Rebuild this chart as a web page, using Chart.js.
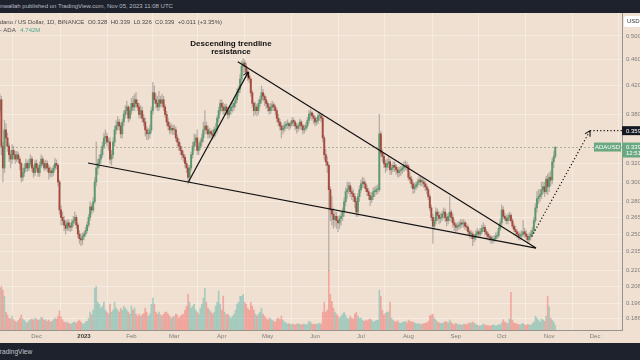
<!DOCTYPE html>
<html><head><meta charset="utf-8">
<script src="https://cdn.jsdelivr.net/npm/chart.js@4.4.1/dist/chart.umd.min.js"></script>
<style>
html,body{margin:0;padding:0;width:640px;height:360px;overflow:hidden;background:#f0e0d2;font-family:"Liberation Sans",Arial,sans-serif}
#wrap{position:relative;width:640px;height:360px;overflow:hidden}
canvas{position:absolute;left:0;top:0}
#hdr{position:absolute;left:0;top:0;width:640px;height:13px;background:#1e222d;color:#b8bbc4;font-size:6px;line-height:13px;white-space:pre;z-index:3}
#hdr span{position:relative;left:-1px}
#ftr{position:absolute;left:0;top:343px;width:640px;height:17px;background:#1e222d;color:#c2c5cc;font-size:6.6px;line-height:17px;white-space:pre;z-index:3}
#ftr span{position:relative;left:-4px}
.leg{position:absolute;font-size:6px;line-height:8px;color:#4a4a4a;white-space:pre;z-index:3}
#note{position:absolute;left:181px;top:40px;width:100px;text-align:center;font-weight:bold;font-size:8px;line-height:8px;color:#111;z-index:3}
</style></head>
<body><div id="wrap">
<canvas id="c" width="640" height="360"></canvas>
<div id="hdr"><span>inwallah published on TradingView.com, Nov 05, 2023 11:08 UTC</span></div>
<div class="leg" style="left:-10px;top:17.5px">Cardano / US Dollar, 1D, BINANCE  O0.328  H0.339  L0.326  C0.339  +0.011 (+3.35%)</div>
<div class="leg" style="left:0;top:26px">- ADA   <span style="color:#4aa88f">4.742M</span></div>
<div id="note">Descending trendline<br>resistance</div>
<div id="ftr"><span>TradingView</span></div>
</div>
<script>
// day index relative to Jan 1 2023 of the first candle (Nov 7 2022)
const startDay = -55;
const firstOpen = 0.385;
const closes = [
// Nov 2022
0.400,0.340,0.315,0.360,0.350,0.340,0.330,0.325,0.335,0.330,0.325,0.330,0.325,0.320,0.305,0.310,0.315,0.320,0.315,0.320,0.325,0.315,0.310,0.320,
// Dec
0.315,0.310,0.318,0.325,0.320,0.315,0.320,0.315,0.310,0.312,0.310,0.315,0.320,0.318,0.300,0.272,0.265,0.262,0.258,0.255,0.260,0.257,0.256,0.260,0.262,0.265,0.258,0.250,0.246,0.245,0.248,
// Jan 2023
0.250,0.253,0.258,0.265,0.275,0.272,0.280,0.300,0.315,0.320,0.325,0.330,0.340,0.350,0.352,0.345,0.345,0.325,0.330,0.345,0.360,0.365,0.370,0.365,0.355,0.370,0.380,0.385,0.390,0.375,0.385,
// Feb
0.395,0.390,0.400,0.395,0.390,0.380,0.385,0.375,0.370,0.360,0.355,0.355,0.360,0.385,0.410,0.400,0.395,0.390,0.400,0.395,0.400,0.390,0.380,0.370,0.365,0.360,0.362,0.360,
// Mar
0.360,0.350,0.345,0.340,0.335,0.330,0.327,0.320,0.315,0.305,0.315,0.330,0.340,0.345,0.350,0.335,0.340,0.345,0.350,0.360,0.365,0.360,0.355,0.358,0.355,0.353,0.360,0.360,0.375,0.385,0.395,
// Apr
0.390,0.385,0.390,0.385,0.380,0.385,0.390,0.390,0.395,0.400,0.410,0.415,0.430,0.450,0.455,0.450,0.440,0.435,0.430,0.410,0.395,0.385,0.390,0.385,0.395,0.400,0.410,0.405,0.400,0.395,
// May
0.390,0.385,0.390,0.393,0.390,0.385,0.375,0.370,0.365,0.360,0.362,0.365,0.367,0.368,0.365,0.368,0.372,0.370,0.365,0.362,0.365,0.370,0.365,0.360,0.362,0.365,0.372,0.380,0.382,0.378,0.375,
// Jun
0.370,0.372,0.378,0.378,0.375,0.350,0.330,0.322,0.318,0.292,0.272,0.268,0.263,0.266,0.262,0.260,0.264,0.266,0.270,0.280,0.290,0.292,0.296,0.290,0.288,0.285,0.280,0.270,0.285,0.292,
// Jul
0.298,0.300,0.298,0.293,0.290,0.286,0.282,0.285,0.290,0.290,0.292,0.292,0.355,0.332,0.328,0.320,0.316,0.320,0.322,0.313,0.315,0.318,0.316,0.313,0.310,0.312,0.313,0.315,0.317,0.318,0.317,
// Aug
0.305,0.303,0.298,0.293,0.295,0.297,0.300,0.302,0.300,0.300,0.298,0.295,0.292,0.285,0.274,0.265,0.257,0.262,0.270,0.267,0.264,0.265,0.268,0.270,0.265,0.262,0.266,0.270,0.265,0.260,0.258,
// Sep
0.256,0.257,0.258,0.260,0.259,0.260,0.257,0.256,0.252,0.250,0.250,0.246,0.247,0.250,0.252,0.250,0.252,0.255,0.256,0.252,0.250,0.248,0.247,0.245,0.245,0.246,0.248,0.249,0.255,0.260,
// Oct
0.272,0.266,0.264,0.262,0.265,0.267,0.262,0.257,0.254,0.252,0.250,0.248,0.249,0.250,0.252,0.250,0.248,0.245,0.248,0.250,0.253,0.262,0.274,0.283,0.285,0.287,0.292,0.295,0.290,0.303,0.295,
// Nov
0.305,0.302,0.322,0.328,0.339
];
const highs = [
0.408,0.405,0.345,0.372,0.368,0.356,0.343,0.335,0.342,0.340,0.334,0.334,0.333,0.328,0.322,0.315,0.320,0.325,0.323,0.325,0.330,0.328,0.318,0.324,
0.324,0.319,0.322,0.330,0.328,0.323,0.324,0.323,0.318,0.316,0.315,0.318,0.326,0.324,0.320,0.302,0.276,0.270,0.266,0.262,0.263,0.263,0.260,0.263,0.266,0.270,0.267,0.260,0.253,0.250,0.251,
0.252,0.256,0.261,0.268,0.280,0.278,0.284,0.305,0.345,0.325,0.330,0.336,0.345,0.356,0.360,0.356,0.350,0.350,0.335,0.350,0.365,0.372,0.377,0.374,0.368,0.374,0.385,0.392,0.398,0.392,0.390,
0.402,0.405,0.408,0.410,0.400,0.395,0.392,0.390,0.380,0.375,0.364,0.362,0.366,0.390,0.425,0.420,0.408,0.405,0.412,0.405,0.408,0.405,0.393,0.384,0.375,0.370,0.368,0.366,
0.366,0.364,0.354,0.349,0.344,0.339,0.334,0.330,0.323,0.318,0.318,0.333,0.345,0.355,0.354,0.360,0.343,0.348,0.355,0.370,0.385,0.370,0.365,0.362,0.360,0.360,0.364,0.368,0.378,0.390,0.400,
0.400,0.396,0.394,0.394,0.390,0.390,0.396,0.397,0.400,0.406,0.416,0.420,0.437,0.458,0.462,0.460,0.455,0.445,0.440,0.432,0.413,0.398,0.396,0.394,0.400,0.405,0.420,0.415,0.408,0.404,
0.398,0.394,0.395,0.398,0.396,0.393,0.388,0.380,0.374,0.369,0.366,0.370,0.371,0.373,0.370,0.371,0.376,0.375,0.372,0.368,0.368,0.374,0.372,0.367,0.366,0.369,0.376,0.385,0.387,0.384,0.381,
0.378,0.376,0.382,0.383,0.381,0.378,0.353,0.336,0.328,0.320,0.295,0.285,0.274,0.270,0.270,0.266,0.267,0.270,0.274,0.284,0.294,0.300,0.300,0.299,0.294,0.292,0.288,0.283,0.288,0.296,
0.302,0.305,0.304,0.301,0.296,0.293,0.289,0.289,0.294,0.295,0.296,0.297,0.380,0.358,0.336,0.332,0.324,0.325,0.328,0.325,0.319,0.322,0.322,0.319,0.316,0.316,0.317,0.319,0.322,0.323,0.322,
0.319,0.310,0.306,0.301,0.299,0.300,0.303,0.306,0.305,0.304,0.303,0.301,0.298,0.294,0.287,0.277,0.268,0.265,0.274,0.273,0.270,0.269,0.271,0.274,0.273,0.268,0.269,0.285,0.272,0.268,0.263,
0.260,0.260,0.261,0.263,0.263,0.263,0.262,0.260,0.258,0.254,0.253,0.252,0.250,0.253,0.255,0.254,0.255,0.258,0.260,0.258,0.254,0.252,0.250,0.249,0.248,0.249,0.251,0.252,0.258,0.263,
0.277,0.275,0.269,0.267,0.268,0.270,0.269,0.264,0.259,0.257,0.254,0.252,0.252,0.253,0.262,0.255,0.253,0.250,0.251,0.253,0.256,0.265,0.278,0.290,0.292,0.292,0.300,0.300,0.300,0.306,0.308,
0.310,0.312,0.326,0.334,0.339
];
const lows = [
0.380,0.330,0.300,0.310,0.340,0.334,0.322,0.315,0.320,0.325,0.320,0.322,0.321,0.313,0.300,0.301,0.306,0.312,0.311,0.312,0.317,0.311,0.305,0.307,
0.311,0.306,0.306,0.315,0.317,0.312,0.313,0.311,0.303,0.306,0.305,0.307,0.312,0.314,0.296,0.268,0.258,0.258,0.253,0.250,0.253,0.253,0.252,0.253,0.257,0.259,0.255,0.247,0.242,0.240,0.241,
0.245,0.248,0.251,0.256,0.262,0.268,0.270,0.278,0.296,0.308,0.315,0.320,0.327,0.337,0.343,0.340,0.335,0.320,0.318,0.326,0.340,0.355,0.360,0.360,0.350,0.350,0.365,0.375,0.380,0.370,0.372,
0.380,0.385,0.385,0.390,0.385,0.375,0.375,0.370,0.365,0.352,0.348,0.348,0.350,0.356,0.380,0.395,0.388,0.385,0.385,0.390,0.390,0.385,0.376,0.365,0.360,0.355,0.356,0.354,
0.354,0.346,0.340,0.335,0.330,0.325,0.322,0.316,0.310,0.298,0.300,0.312,0.326,0.335,0.340,0.330,0.330,0.336,0.340,0.345,0.355,0.355,0.350,0.350,0.350,0.348,0.350,0.352,0.356,0.370,0.380,
0.384,0.380,0.380,0.380,0.374,0.376,0.380,0.383,0.385,0.390,0.396,0.405,0.410,0.425,0.440,0.440,0.432,0.428,0.425,0.405,0.390,0.378,0.380,0.378,0.380,0.390,0.395,0.398,0.392,0.388,
0.384,0.380,0.381,0.385,0.385,0.380,0.370,0.365,0.360,0.350,0.355,0.358,0.361,0.362,0.360,0.362,0.365,0.365,0.360,0.356,0.358,0.361,0.360,0.355,0.356,0.359,0.362,0.368,0.374,0.372,0.368,
0.365,0.366,0.368,0.372,0.370,0.345,0.325,0.318,0.310,0.220,0.262,0.258,0.255,0.257,0.255,0.252,0.255,0.258,0.262,0.266,0.276,0.283,0.288,0.285,0.282,0.280,0.274,0.266,0.266,0.280,
0.289,0.294,0.294,0.290,0.286,0.282,0.276,0.279,0.282,0.285,0.287,0.288,0.290,0.328,0.322,0.315,0.310,0.312,0.315,0.308,0.308,0.311,0.311,0.308,0.305,0.306,0.307,0.309,0.311,0.313,0.312,
0.302,0.299,0.294,0.288,0.289,0.292,0.294,0.297,0.296,0.296,0.294,0.291,0.288,0.282,0.271,0.262,0.242,0.254,0.259,0.262,0.259,0.260,0.262,0.264,0.261,0.257,0.259,0.262,0.261,0.256,0.253,
0.252,0.253,0.254,0.255,0.256,0.256,0.254,0.253,0.249,0.247,0.246,0.240,0.243,0.245,0.248,0.247,0.248,0.250,0.252,0.249,0.247,0.245,0.244,0.242,0.242,0.243,0.244,0.246,0.247,0.253,
0.258,0.264,0.262,0.259,0.259,0.262,0.260,0.255,0.252,0.249,0.247,0.245,0.245,0.246,0.248,0.247,0.245,0.242,0.243,0.245,0.248,0.251,0.260,0.270,0.278,0.280,0.283,0.288,0.285,0.288,0.287,
0.290,0.296,0.298,0.315,0.326
];
// volume, millions of ADA
const volumes = [
1050,1100,1000,850,450,380,300,280,350,260,220,200,240,300,380,280,250,200,180,230,260,280,250,300,
280,250,260,320,300,240,260,220,250,200,220,260,300,280,350,480,330,260,200,180,200,170,150,160,190,200,170,220,250,200,160,
150,200,220,300,450,380,500,1050,1100,700,650,550,600,700,500,450,400,650,450,500,700,550,500,450,550,500,600,550,500,450,400,
600,500,550,400,350,400,350,380,420,550,450,350,400,650,800,650,450,400,450,380,350,400,450,450,400,350,300,330,
350,400,380,300,350,380,400,500,600,900,700,550,600,650,500,450,400,550,650,800,1050,700,550,500,450,400,450,600,700,980,650,
500,850,450,380,400,350,300,350,400,500,650,700,850,850,900,700,650,550,500,700,600,500,400,350,400,450,550,400,350,300,
250,300,280,250,220,200,280,300,260,350,250,200,180,150,160,140,150,140,130,150,160,140,130,140,150,130,150,220,200,150,140,
150,140,160,170,150,450,700,450,500,1500,900,720,550,450,400,350,300,350,400,450,380,300,280,350,300,280,400,450,350,300,
300,250,220,250,230,260,280,250,200,220,240,250,1000,850,500,380,420,450,450,700,300,250,220,200,230,180,170,190,200,220,180,
250,220,200,200,180,170,150,160,140,150,160,170,180,220,350,380,400,300,250,200,180,170,160,180,220,200,180,250,200,150,140,
170,150,130,140,120,150,140,130,160,180,170,200,170,150,120,110,100,120,150,130,110,120,100,110,120,130,100,110,140,130,
180,260,200,180,160,280,950,250,180,160,150,140,130,150,170,130,120,140,130,120,160,200,350,300,250,200,280,250,220,350,850,
580,300,250,200,120
];
const monthTicks = [-31,0,31,59,90,120,151,181,212,243,273,304,334];
const monthLabels = ['Dec','2023','Feb','Mar','Apr','May','Jun','Jul','Aug','Sep','Oct','Nov','Dec'];
const priceTicks = [0.500,0.460,0.420,0.380,0.320,0.300,0.280,0.265,0.250,0.235,0.220,0.208,0.196,0.186];
// drawn trendlines: [day, price]
const supportLine = [[2.6,0.3206],[295.4,0.238]];
const resistanceLine = [[100.5,0.457],[295.4,0.238]];
const riseLine = [[68.2,0.300],[107.4,0.441]];
const projectionLine = [[292.6,0.2478],[330.7,0.359]];
const targetLine = [[330.7,0.359],[351.6,0.359]];
const targetPrice = 0.359;
const lastLabelTime = '12:51';

const UP = '#5b9a6f', DN = '#a64a3e';
const days = closes.map((_, i) => startDay + i);
const opens = closes.map((c, i) => i === 0 ? firstOpen : closes[i - 1]);
const isUp = closes.map((c, i) => c >= opens[i]);
const pts = a => a.map(p => ({x: p[0], y: p[1]}));
const FONT = '"Liberation Sans", Arial, sans-serif';
Chart.defaults.font.family = FONT;

const lineDs = (d, extra) => Object.assign({type: 'line', data: pts(d), yAxisID: 'y', borderColor: '#111', borderWidth: 1.2, pointRadius: 0, fill: false, order: 1, tension: 0}, extra);

const overlay = {
  id: 'overlay',
  beforeDatasetsDraw(chart) {
    const {ctx, chartArea: a, scales: {y}} = chart;
    const py = Math.round(y.getPixelForValue(closes[closes.length - 1])) + 0.5;
    ctx.save();
    ctx.strokeStyle = 'rgba(110,130,115,0.5)'; ctx.lineWidth = 1; ctx.setLineDash([2, 2]);
    ctx.beginPath(); ctx.moveTo(a.left, py); ctx.lineTo(a.right, py); ctx.stroke();
    ctx.restore();
  },
  afterDatasetsDraw(chart) {
    const ctx = chart.ctx;
    chart.data.datasets.forEach((ds, i) => {
      if (!ds.arrow) return;
      const m = chart.getDatasetMeta(i).data;
      const p1 = m[m.length - 2], p2 = m[m.length - 1];
      const ang = Math.atan2(p2.y - p1.y, p2.x - p1.x);
      ctx.save(); ctx.strokeStyle = '#111'; ctx.lineWidth = 1.1;
      ctx.beginPath();
      [0.5, -0.5].forEach(d => { ctx.moveTo(p2.x, p2.y); ctx.lineTo(p2.x - 6 * Math.cos(ang + d), p2.y - 6 * Math.sin(ang + d)); });
      ctx.stroke(); ctx.restore();
    });
  },
  afterDraw(chart) {
    const {ctx, chartArea: a, scales: {y}} = chart;
    ctx.save();
    ctx.font = '6px ' + FONT; ctx.textBaseline = 'middle';
    let py = y.getPixelForValue(targetPrice);
    ctx.fillStyle = '#131722'; ctx.fillRect(a.right, py - 4.5, 20, 9);
    ctx.fillStyle = '#fff'; ctx.textAlign = 'left'; ctx.fillText(targetPrice.toFixed(3), a.right + 4, py + 0.5);
    const last = closes[closes.length - 1];
    py = y.getPixelForValue(last);
    ctx.fillStyle = '#6aa882'; ctx.fillRect(a.right, py - 4.5, 20, 15);
    ctx.fillRect(a.right - 28, py - 4.5, 27, 9);
    ctx.fillStyle = '#fff';
    ctx.fillText(last.toFixed(3), a.right + 4, py + 0.5);
    ctx.fillText(lastLabelTime, a.right + 4, py + 6.5);
    ctx.textAlign = 'center'; ctx.fillText('ADAUSD', a.right - 14.5, py + 0.5);
    ctx.fillStyle = '#ffffff'; ctx.beginPath(); ctx.roundRect(a.right + 2, 16, 22, 11, 2); ctx.fill();
    ctx.fillStyle = '#333'; ctx.textAlign = 'left'; ctx.fillText('USD', a.right + 5, 21.5);
    ctx.restore();
  }
};

new Chart(document.getElementById('c'), {
  type: 'bar',
  data: {
    datasets: [
      {label: 'Volume', data: days.map((d, i) => ({x: d, y: volumes[i]})), yAxisID: 'yVol',
       backgroundColor: isUp.map(u => u ? 'rgba(38,166,154,0.36)' : 'rgba(239,83,80,0.40)'),
       barThickness: 1.0, grouped: false, order: 6},
      {label: 'Wick', data: days.map((d, i) => ({x: d, y: [Math.min(lows[i], opens[i], closes[i]), Math.max(highs[i], opens[i], closes[i])]})), yAxisID: 'y',
       backgroundColor: 'rgba(125,120,115,0.5)', barThickness: 0.6, grouped: false, order: 5},
      {label: 'Body', data: days.map((d, i) => ({x: d, y: [opens[i], closes[i]]})), yAxisID: 'y',
       backgroundColor: isUp.map(u => u ? UP : DN), barThickness: 1.3, minBarLength: 1, grouped: false, order: 4},
      lineDs(supportLine),
      lineDs(resistanceLine),
      lineDs(riseLine, {arrow: true}),
      lineDs(projectionLine, {borderDash: [1.2, 2.2], arrow: true}),
      lineDs(targetLine, {borderDash: [1.2, 2.2]})
    ]
  },
  options: {
    responsive: false, animation: false, events: [],
    layout: {padding: {top: 12, left: 0, right: 0, bottom: 0}},
    plugins: {legend: {display: false}, tooltip: {enabled: false}},
    scales: {
      x: {type: 'linear', min: -54.9, max: 351.6, offset: false,
          afterBuildTicks: s => { s.ticks = monthTicks.map(v => ({value: v})); },
          afterFit: s => { s.height = 30; },
          ticks: {autoSkip: false, maxRotation: 0, padding: 3,
                  callback: (v, i) => monthLabels[i],
                  color: c => c.index === 1 ? '#3a3a3a' : '#7d7d7d',
                  font: c => ({size: 6, weight: c.index === 1 ? 'bold' : 'normal'})},
          grid: {color: 'rgba(255,255,255,0.35)', drawTicks: false},
          border: {display: true, color: '#9a948e'}},
      y: {type: 'logarithmic', position: 'right', min: 0.1787, max: 0.5438,
          afterBuildTicks: s => { s.ticks = priceTicks.map(v => ({value: v})); },
          afterFit: s => { s.width = 18; },
          ticks: {autoSkip: false, padding: 4, color: '#7d7d7d', font: {size: 6},
                  callback: v => Number(v).toFixed(3)},
          grid: {color: 'rgba(255,255,255,0.35)', drawTicks: false},
          border: {display: true, color: '#9a948e'}},
      yVol: {type: 'linear', display: false, min: 0, max: 8000}
    }
  },
  plugins: [overlay]
});
</script>
</body></html>
